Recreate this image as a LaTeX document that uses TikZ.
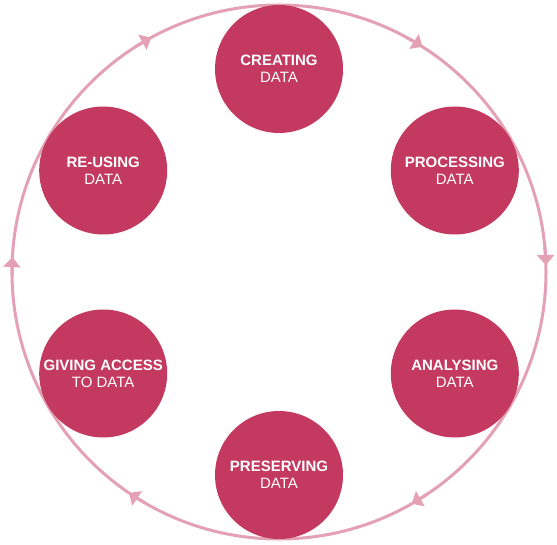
\documentclass[tikz,border=0pt]{standalone}
\usepackage{fontspec}
\setsansfont{Liberation Sans}
\usetikzlibrary{arrows.meta}
\definecolor{stage red}{RGB}{196,57,96}
\definecolor{cycle pink}{RGB}{228,160,181}
\tikzstyle{stage} = [circle, fill = stage red, minimum size = 128, inner sep = 0,
                     text = white, align = center,
                     font = \sffamily\fontsize{15}{17}\selectfont]
\tikzstyle{cycle} = [draw = cycle pink, line width = 3]
\tikzstyle{cycle picture} = [x = 1pt, y = 1pt]

\begin{document}
\begin{tikzpicture}[cycle picture,
                    cycle tip/.style = {cycle, -{Triangle[length = 10, width = 17]}},
                   ]
    \useasboundingbox (0, 0) rectangle (557, -545);
    \coordinate (centre) at (279, -272);

    \draw [cycle] (centre) circle [radius = 267];

    % tips, running clockwise
    \foreach \a in {118.6, 57.5, 1.5, -60.2, -124.2, 176.8}
    {
        \draw [cycle tip] ([shift = {(\a + 4:267)}] centre)
            arc [start angle = \a + 4, end angle = \a, radius = 267];
    }

    \foreach \a/\name/\headword/\tailword in {90/creating/CREATING/DATA,
                                             30/processing/PROCESSING/DATA,
                                             -30/analysing/ANALYSING/DATA,
                                             -90/preserving/PRESERVING/DATA,
                                             -150/giving/GIVING ACCESS/TO DATA,
                                             150/reusing/RE-USING/DATA}
    {
        \node [stage] (stage_\name) at ([shift = {(\a:203)}] centre)
            {\textbf{\headword}\\\tailword};
    }
\end{tikzpicture}
\end{document}
